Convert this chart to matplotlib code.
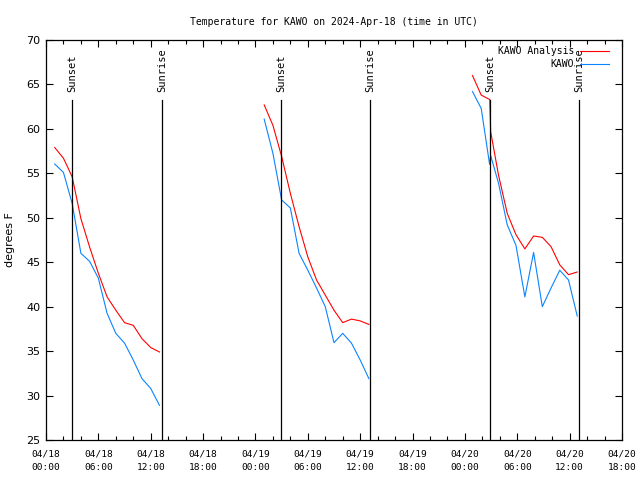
import numpy as np
import matplotlib.pyplot as plt
from matplotlib.ticker import MultipleLocator

# hours since 2024-04-18 00:00 UTC
hours_1 = [1, 2, 3, 4, 5, 6, 7, 8, 9, 10, 11, 12, 13]
anl_1 = [57.9, 56.7, 54.6, 49.9, 46.7, 43.75, 41.1, 39.6, 38.2, 37.9, 36.4, 35.4, 34.9]
obs_1 = [56.05, 55.1, 51.6, 46.0, 45.1, 43.2, 39.25, 37.0, 35.9, 34.0, 31.9, 30.8, 28.9]

hours_2 = [25, 26, 27, 28, 29, 30, 31, 32, 33, 34, 35, 36, 37]
anl_2 = [62.7, 60.4, 56.9, 52.75, 49.0, 45.6, 43.0, 41.3, 39.6, 38.2, 38.6, 38.4, 38.0]
obs_2 = [61.1, 57.25, 52.0, 51.1, 46.0, 44.1, 42.1, 40.0, 35.95, 37.0, 35.9, 34.0, 31.9]

anl_hours_3 = [48.87, 49.87, 50.85, 50.95, 51.85, 52.85, 53.85, 54.87, 55.87, 56.87, 57.87, 58.87, 59.87, 60.87]
anl_3 = [66.0, 63.8, 63.3, 59.7, 54.8, 50.5, 48.1, 46.5, 47.95, 47.8, 46.75, 44.7, 43.6, 43.9]
obs_hours_3 = [48.87, 49.87, 50.83, 50.95, 51.85, 52.85, 53.85, 54.87, 55.87, 56.87, 57.87, 58.87, 59.87, 60.87]
obs_3 = [64.2, 62.3, 56.0, 57.0, 53.9, 49.2, 46.9, 41.1, 46.1, 40.0, 42.1, 44.1, 43.0, 38.95]

sunset = [2.98, 26.96, 50.92]
sunrise = [13.33, 37.16, 61.1]

tick_hours = [0, 6, 12, 18, 24, 30, 36, 42, 48, 54, 60, 66]
tick_labels = ['04/18\n00:00', '04/18\n06:00', '04/18\n12:00', '04/18\n18:00',
               '04/19\n00:00', '04/19\n06:00', '04/19\n12:00', '04/19\n18:00',
               '04/20\n00:00', '04/20\n06:00', '04/20\n12:00', '04/20\n18:00']

mono = 'DejaVu Sans Mono'
red = '#ff0000'
blue = '#0a84ff'

fig = plt.figure(figsize=(6.4, 4.8), dpi=100)
ax = fig.add_axes([46 / 640, 40 / 480, 576 / 640, 400 / 480])

ax.plot(hours_1, anl_1, color=red, lw=0.8, label='KAWO Analysis')
ax.plot(hours_2, anl_2, color=red, lw=0.8)
ax.plot(anl_hours_3, anl_3, color=red, lw=0.8)
ax.plot(hours_1, obs_1, color=blue, lw=0.8, label='KAWO')
ax.plot(hours_2, obs_2, color=blue, lw=0.8)
ax.plot(obs_hours_3, obs_3, color=blue, lw=0.8)

# sunset / sunrise markers
for h in sunset:
    ax.plot([h, h], [25, 63.25], color='black', lw=0.9)
    ax.text(h, 64.15, 'Sunset', rotation=90, ha='center', va='bottom',
            family=mono, fontsize=7.5)
for h in sunrise:
    ax.plot([h, h], [25, 63.25], color='black', lw=0.9)
    ax.text(h, 64.15, 'Sunrise', rotation=90, ha='center', va='bottom',
            family=mono, fontsize=7.5)

ax.set_xlim(0, 66)
ax.set_ylim(25, 70)
ax.set_xticks(tick_hours)
ax.set_xticklabels(tick_labels, family=mono, fontsize=6.8, linespacing=1.55)
ax.xaxis.set_minor_locator(MultipleLocator(2))
ax.set_yticks(range(25, 71, 5))
ax.tick_params(axis='y', labelsize=8)
ax.tick_params(which='both', direction='in', top=True, right=True, color='black', width=0.8)
ax.tick_params(which='major', length=5, pad=4)
ax.tick_params(axis='x', which='major', pad=7)
ax.tick_params(which='minor', length=3)
for s in ax.spines.values():
    s.set_linewidth(0.9)

ax.set_ylabel('degrees F', fontsize=8, labelpad=8)
ax.set_title('Temperature for KAWO on 2024-Apr-18 (time in UTC)', family=mono,
             fontsize=7, pad=11)

ax.legend(loc='upper right', bbox_to_anchor=(609 / 640, 1 - 46 / 480),
          bbox_transform=fig.transFigure, frameon=False, markerfirst=False,
          prop={'family': mono, 'size': 7}, handlelength=3.0, handletextpad=0.6,
          borderpad=0, borderaxespad=0, labelspacing=0.3)

fig.savefig('out.png', dpi=100)
